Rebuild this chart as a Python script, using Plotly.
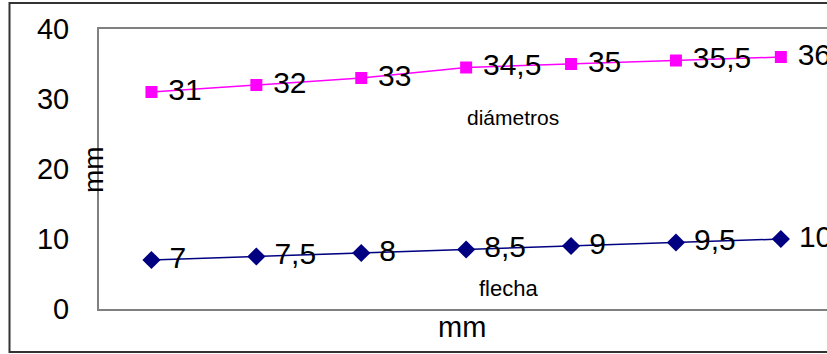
import plotly.graph_objects as go

categories = [1, 2, 3, 4, 5, 6, 7]
diametros = [31, 32, 33, 34.5, 35, 35.5, 36]
flecha = [7, 7.5, 8, 8.5, 9, 9.5, 10]
y_ticks = [0, 10, 20, 30, 40]

def fmt(v):
    s = ("%g" % v).replace(".", ",")
    return " " + s

W, H = 827, 354
L, T, B = 99, 29, 45
PW = W - L
PH = H - T - B
step = 104.9

def px(x):
    return (x - L) / PW

def py(y):
    return (H - B - y) / PH

FONT = "Liberation Sans, Arial, sans-serif"

fig = go.Figure()
fig.add_trace(go.Scatter(
    x=categories, y=diametros, mode="lines+markers+text",
    text=[fmt(v) for v in diametros], textposition="middle right",
    textfont=dict(family=FONT, size=30, color="black"),
    line=dict(color="#FF00FF", width=1.5),
    marker=dict(symbol="square", size=12, color="#FF00FF"),
    name="diámetros", showlegend=False, hoverinfo="skip"))
fig.add_trace(go.Scatter(
    x=categories, y=flecha, mode="lines+markers+text",
    text=[fmt(v) for v in flecha], textposition="middle right",
    textfont=dict(family=FONT, size=30, color="black"),
    line=dict(color="#000080", width=1.5),
    marker=dict(symbol="diamond", size=14, color="#000080"),
    name="flecha", showlegend=False, hoverinfo="skip"))

fig.update_layout(
    width=W, height=H,
    margin=dict(l=L, r=0, t=T, b=B, pad=0),
    paper_bgcolor="white", plot_bgcolor="white",
    font=dict(family=FONT, color="black"),
    xaxis=dict(range=[0.5, 0.5 + PW / step], showticklabels=False, ticks="",
               showgrid=False, zeroline=False, showline=True, mirror=True,
               linecolor="#808080", linewidth=2),
    yaxis=dict(range=[0, 40], tickvals=y_ticks, ticks="", showgrid=False,
               zeroline=False, showline=True, linecolor="#808080", linewidth=2,
               tickfont=dict(family=FONT, size=29, color="black"),
               ticklabelstandoff=22),
    shapes=[dict(type="rect", xref="paper", yref="paper",
                 x0=px(9.5), x1=px(840), y0=py(352), y1=py(3),
                 line=dict(color="#333333", width=2), layer="below")],
    annotations=[
        dict(text="mm", x=px(462), y=py(327), xref="paper", yref="paper",
             showarrow=False, xanchor="center", yanchor="middle",
             font=dict(family=FONT, size=29, color="black")),
        dict(text="mm", x=px(93), y=py(170), xref="paper", yref="paper",
             showarrow=False, xanchor="center", yanchor="middle", textangle=-90,
             font=dict(family=FONT, size=28, color="black")),
        dict(text="diámetros", x=px(513), y=py(117), xref="paper", yref="paper",
             showarrow=False, xanchor="center", yanchor="middle",
             font=dict(family=FONT, size=21, color="black")),
        dict(text="flecha", x=px(508), y=py(288), xref="paper", yref="paper",
             showarrow=False, xanchor="center", yanchor="middle",
             font=dict(family=FONT, size=22, color="black")),
    ],
)

fig.write_html("out.html", config={"displayModeBar": False},
               post_script="document.body.style.margin='0px';document.body.style.overflow='hidden';")
